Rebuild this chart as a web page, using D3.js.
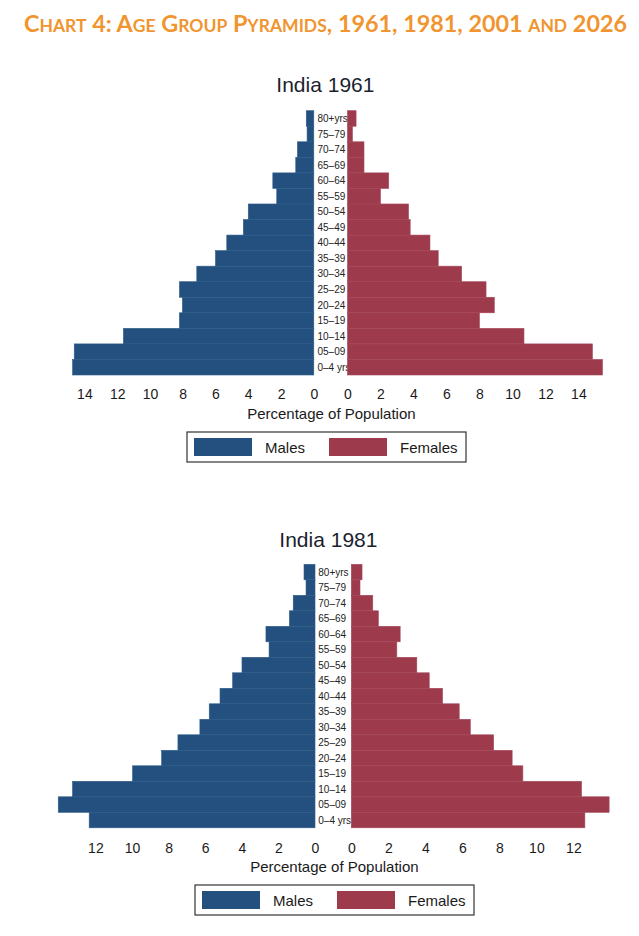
<!DOCTYPE html>
<html><head><meta charset="utf-8">
<script src="https://cdn.jsdelivr.net/npm/d3@7/dist/d3.min.js"></script>
<style>body{margin:0;background:#fff}svg{display:block}</style>
</head><body><svg id="c" width="639" height="936"></svg>
<script>
// ---- data ----
const chartTitle = "Chart 4: Age Group Pyramids, 1961, 1981, 2001 and 2026";
const ageGroups = ["0–4 yrs","05–09","10–14","15–19","20–24","25–29","30–34","35–39","40–44","45–49","50–54","55–59","60–64","65–69","70–74","75–79","80+yrs"];
const males1961   = [14.72,14.62,11.62,8.2,8.02,8.2,7.14,6.0,5.31,4.3,4.0,2.26,2.5,1.1,1.0,0.41,0.46];
const females1961 = [15.46,14.85,10.7,8.0,8.9,8.4,6.92,5.5,5.0,3.8,3.7,2.0,2.5,1.0,1.0,0.3,0.52];
const males1981   = [12.34,14.03,13.25,9.97,8.38,7.49,6.29,5.78,5.19,4.5,3.99,2.51,2.68,1.4,1.19,0.49,0.6];
const females1981 = [12.62,13.93,12.44,9.27,8.69,7.69,6.43,5.83,4.93,4.21,3.54,2.46,2.64,1.46,1.16,0.47,0.58];
const ticks1961 = [0,2,4,6,8,10,12,14];
const ticks1981 = [0,2,4,6,8,10,12];
const seriesNames = ["Males","Females"];
const axisTitle = "Percentage of Population";

// ---- layout ----
const COL_M = "#23507f", COL_F = "#9d3b4d";
const FONT = "'Liberation Sans', Arial, Helvetica, sans-serif";
const svg = d3.select("#c");

// main title in small caps
(function(){
  const t = svg.append("text").attr("x",24).attr("y",32)
    .attr("fill","#f0952f").attr("font-family","Lato, 'Open Sans', sans-serif")
    .attr("font-weight",700).attr("textLength",603).attr("lengthAdjust","spacingAndGlyphs");
  const runs = chartTitle.match(/[a-z]+|[^a-z]+/g);
  runs.forEach(r=>{
    const lower = /^[a-z]+$/.test(r);
    t.append("tspan").attr("font-size", lower?16.5:22).text(lower?r.toUpperCase():r);
  });
})();

const panels = [
  {name:"India 1961", males:males1961, females:females1961, ticks:ticks1961,
   mR:[313.8,84.4], fR:[347.5,578.4], maxT:14, top:110.7, bottom:375,
   titleY:92, tickY:399, labY:419, legX:187, legY:432, labelX:317.5},
  {name:"India 1981", males:males1981, females:females1981, ticks:ticks1981,
   mR:[315,95.4], fR:[351.3,573.4], maxT:12, top:564.3, bottom:827.8,
   titleY:547, tickY:853, labY:872, legX:195, legY:885, labelX:318.3}
];

panels.forEach(p=>{
  const g = svg.append("g");
  const xm = d3.scaleLinear().domain([0,p.maxT]).range(p.mR);
  const xf = d3.scaleLinear().domain([0,p.maxT]).range(p.fR);
  const y = d3.scaleBand().domain(ageGroups.slice().reverse()).range([p.top,p.bottom]).padding(0);

  // title
  g.append("text").attr("x",(xm(p.maxT)+xf(p.maxT))/2 - 6).attr("y",p.titleY)
    .attr("text-anchor","middle").attr("font-family",FONT).attr("font-size",21)
    .attr("fill","#1b1f2e").text(p.name);

  // male bars
  g.selectAll(".m").data(ageGroups.map((a,i)=>({a,v:p.males[i]}))).join("rect")
    .attr("x",d=>xm(d.v)).attr("width",d=>xm(0)-xm(d.v))
    .attr("y",d=>y(d.a)).attr("height",y.bandwidth())
    .attr("fill",COL_M).attr("stroke","#2e5b88").attr("stroke-width",0.6);

  // age labels
  g.selectAll(".lab").data(ageGroups).join("text")
    .attr("x",p.labelX).attr("y",d=>y(d)+y.bandwidth()/2).attr("dy","0.35em")
    .attr("font-family",FONT).attr("font-size",10).attr("fill","#222").text(d=>d);

  // female bars (drawn over labels)
  g.selectAll(".f").data(ageGroups.map((a,i)=>({a,v:p.females[i]}))).join("rect")
    .attr("x",xf(0)).attr("width",d=>xf(d.v)-xf(0))
    .attr("y",d=>y(d.a)).attr("height",y.bandwidth())
    .attr("fill",COL_F).attr("stroke","#a5475a").attr("stroke-width",0.6);

  // axes (labels only)
  const axM = d3.axisBottom(xm).tickValues(p.ticks).tickSize(0).tickPadding(0);
  const axF = d3.axisBottom(xf).tickValues(p.ticks).tickSize(0).tickPadding(0);
  [axM,axF].forEach(ax=>{
    const a = g.append("g").attr("transform",`translate(0,${p.tickY-10})`).call(ax);
    a.select(".domain").remove();
    a.selectAll("text").attr("font-family",FONT).attr("font-size",14).attr("fill","#1a1a1a")
      .attr("dy",null).attr("y",10);
  });

  g.append("text").attr("x",(xm(p.maxT)+xf(p.maxT))/2).attr("y",p.labY)
    .attr("text-anchor","middle").attr("font-family",FONT).attr("font-size",15)
    .attr("fill","#1a1a1a").text(axisTitle);

  // legend
  const L = g.append("g").attr("transform",`translate(${p.legX},${p.legY})`);
  L.append("rect").attr("width",279).attr("height",30).attr("fill","#fff")
    .attr("stroke","#333").attr("stroke-width",1.2);
  const items = [{n:seriesNames[0],c:COL_M,sx:7,tx:78},{n:seriesNames[1],c:COL_F,sx:142,tx:213}];
  items.forEach(it=>{
    L.append("rect").attr("x",it.sx).attr("y",6).attr("width",58).attr("height",18).attr("fill",it.c);
    L.append("text").attr("x",it.tx).attr("y",20.5).attr("font-family",FONT).attr("font-size",15)
      .attr("fill","#1a1a1a").text(it.n);
  });
});
</script></body></html>
